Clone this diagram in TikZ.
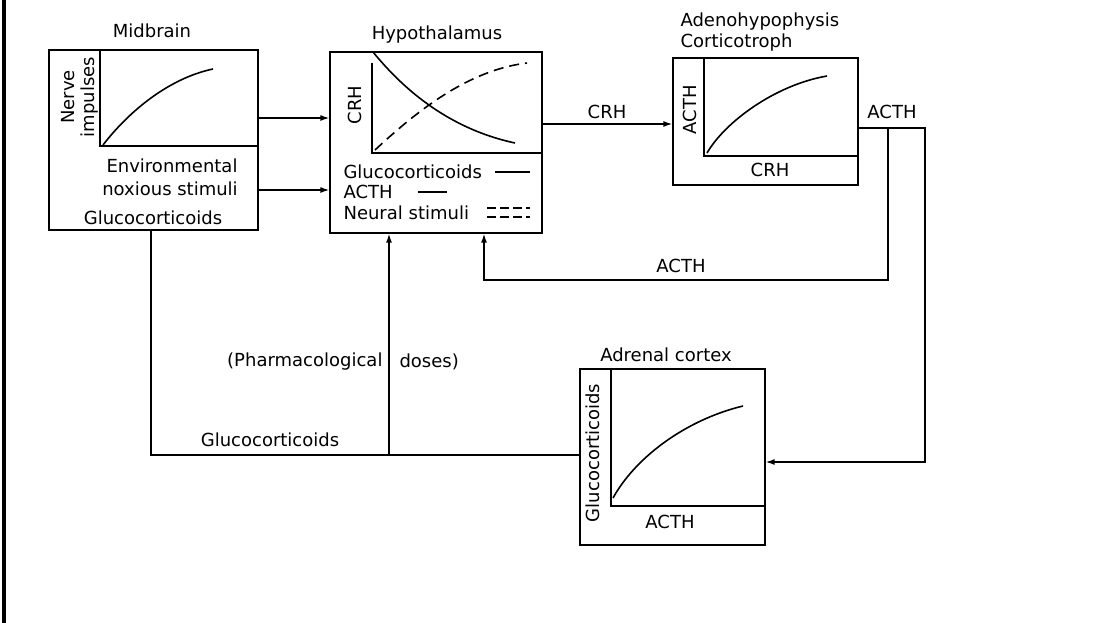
\documentclass[tikz,border=0pt]{standalone}
\usepackage{fontspec}
\setmainfont{DejaVu Sans}
\usetikzlibrary{arrows.meta}
\begin{document}
\begin{tikzpicture}[x=1pt,y=-1pt,font=\fontsize{18}{20}\selectfont,
  panel/.style={draw,line width=1.3pt,inner sep=0pt},
  axis/.style={line width=1.2pt},
  curve/.style={line width=1.6pt},
  link/.style={line width=1.4pt},
  arr/.style={link,-{Latex[length=9pt,width=6pt]}}]
\useasboundingbox (0,0) rectangle (1094,623);
\draw[line width=3.5pt] (4,0) -- (4,623);

% boxes
\node[panel,minimum width=209pt,minimum height=180pt] (midbrain) at (153.5,140) {};
\node[panel,minimum width=212pt,minimum height=181pt] (hypo) at (436,142.5) {};
\node[panel,minimum width=185pt,minimum height=127pt] (adeno) at (765.5,121.5) {};
\node[panel,minimum width=185pt,minimum height=176pt] (adrenal) at (672.5,457) {};

% titles
\node (tmid) at (152,31) {Midbrain};
\node (thypo) at (437,35) {Hypothalamus};
\node[anchor=west] (tadeno) at (677,22) {Adenohypophysis};
\node[anchor=west] (tcort) at (677,43) {Corticotroph};
\node (tadr) at (666,355) {Adrenal cortex};

% midbrain plot
\draw[axis] (100,50) -- (100,146) -- (258,146);
\draw[curve] (103,145) .. controls (130,110) and (170,78) .. (213,69);
\node[rotate=90,align=center] (nerve) at (80,97) {Nerve\\impulses};
\node (env) at (172,166) {Environmental};
\node (nox) at (170,189) {noxious stimuli};
\node (gcmid) at (153,218) {Glucocorticoids};

% hypothalamus plot
\draw[axis] (372,63) -- (372,153) -- (542,153);
\draw[curve] (373,52) .. controls (400,85) and (445,128) .. (515,143);
\draw[curve,dash pattern=on 10pt off 6pt] (375,150) .. controls (420,108) and (470,70) .. (527,63);
\node[rotate=90] (crhy) at (355,105) {CRH};
\node[anchor=west] (leg1) at (340,172) {Glucocorticoids};
\node[anchor=west] (leg2) at (340,192) {ACTH};
\node[anchor=west] (leg3) at (340,213) {Neural stimuli};
\draw[curve] (495,172) -- (530,172);
\draw[curve] (418,192) -- (447,192);
\draw[axis,dash pattern=on 9pt off 4pt] (487,208) -- (530,208);
\draw[axis,dash pattern=on 9pt off 4pt] (487,217) -- (530,217);

% adenohypophysis plot
\draw[axis] (704,58) -- (704,156) -- (858,156);
\draw[curve] (707,153) .. controls (725,122) and (775,85) .. (827,76);
\node[rotate=90] (acthy) at (690,110) {ACTH};
\node (crhx) at (770,170) {CRH};

% adrenal plot
\draw[axis] (611,369) -- (611,506) -- (765,506);
\draw[curve] (613,498) .. controls (635,458) and (685,420) .. (743,406);
\node[rotate=90] (gcy) at (593,453) {Glucocorticoids};
\node (acthx) at (670,522) {ACTH};

% connectors
\coordinate (lvlA) at (0,118);
\coordinate (lvlB) at (0,190);
\coordinate (lvlC) at (0,124);
\draw[arr] (midbrain.east |- lvlA) -- (hypo.west |- lvlA);
\draw[arr] (midbrain.east |- lvlB) -- (hypo.west |- lvlB);
\draw[arr] (hypo.east |- lvlC) -- (adeno.west |- lvlC);
\node (crhlbl) at (607,112) {CRH};

\coordinate (acthOut) at (925,128);
\coordinate (acthBr) at (888,128);
\coordinate (fb) at (484,280);
\coordinate (adrIn) at (925,462);
\draw[arr] (adeno.east |- acthOut) -- (acthOut) -- (adrIn) -- (adrIn -| adrenal.east);
\draw[arr] (acthBr) -- (acthBr |- fb) -- (fb) -- (fb |- hypo.south);
\node (acthlbl) at (892,112) {ACTH};
\node (fblbl) at (681,266) {ACTH};

\coordinate (gcCorner) at (151,455);
\coordinate (pharm) at (389,455);
\draw[link] (gcCorner |- midbrain.south) -- (gcCorner) -- (adrenal.west |- gcCorner);
\draw[arr] (pharm) -- (pharm |- hypo.south);
\node (gclbl) at (270,440) {Glucocorticoids};
\node[anchor=east] (pharmlbl) at (386,362) {(Pharmacological};
\node[anchor=west] (doseslbl) at (396,362) {doses)};
\end{tikzpicture}
\end{document}
